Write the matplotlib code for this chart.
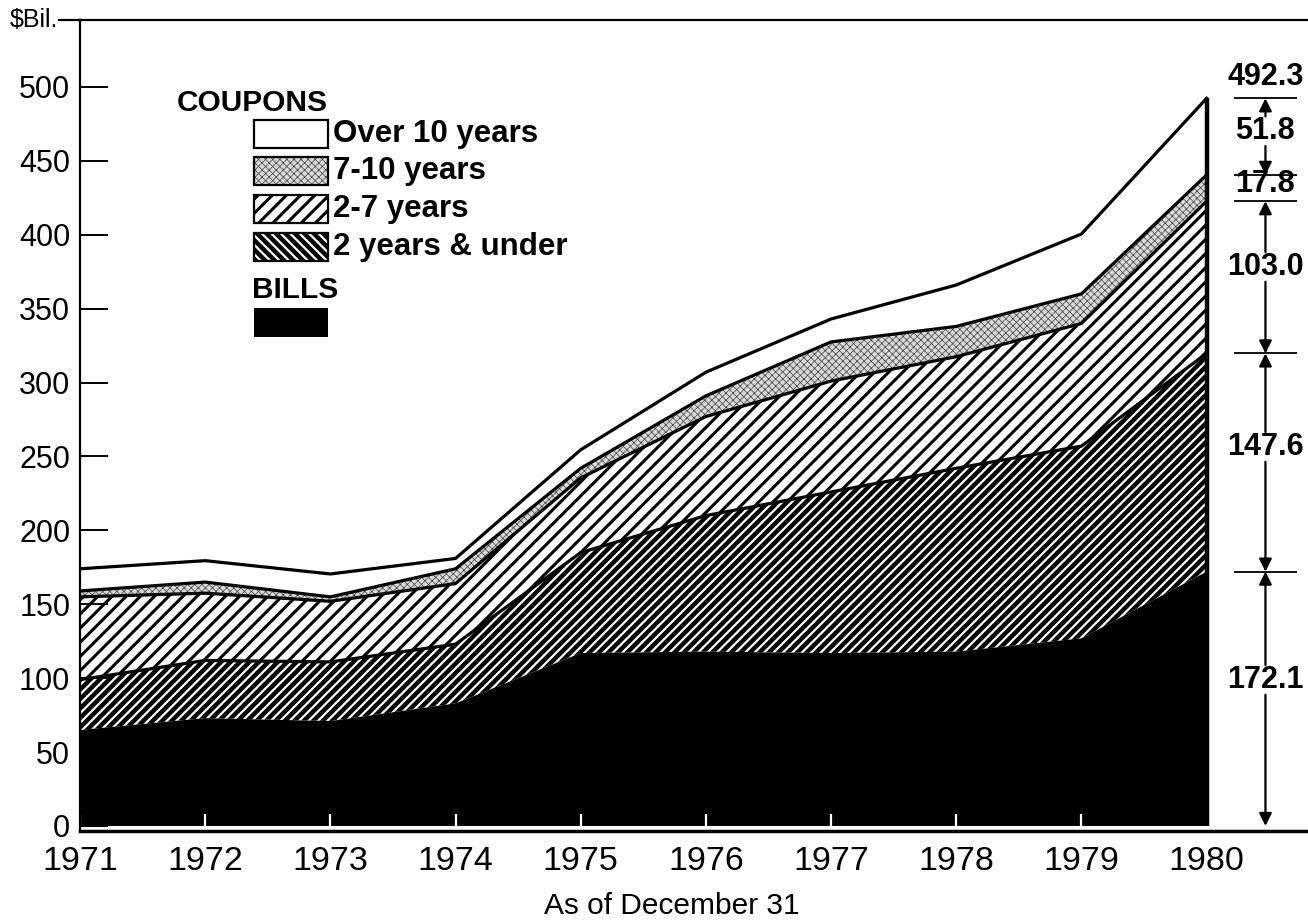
import matplotlib
matplotlib.use("Agg")
import matplotlib.pyplot as plt
from matplotlib.patches import Rectangle
import numpy as np

# marketable debt by maturity, $ billions, as of December 31
years = [1971, 1972, 1973, 1974, 1975, 1976, 1977, 1978, 1979, 1980]
bills = [65, 73, 71, 83, 117, 118, 117, 118, 127, 172.1]
under_2 = [34, 39, 40, 40, 68, 92, 109, 124, 130, 147.6]
yrs_2_7 = [56, 45.5, 41, 41, 50.5, 67, 75, 75.5, 83, 103.0]
yrs_7_10 = [4, 7.5, 3, 10, 6.5, 14, 26.5, 20.5, 20, 17.8]
over_10 = [15, 14.5, 15.5, 7, 12.5, 16, 15.5, 28, 40.5, 51.8]

coupon_labels = ["Over 10 years", "7-10 years", "2-7 years", "2 years & under"]
yticks = [0, 50, 100, 150, 200, 250, 300, 350, 400, 450, 500]

plt.rcParams['font.family'] = ['Liberation Sans', 'DejaVu Sans']

# dpi 85 makes the hatch spacing close to the printed one
W, H, DPI = 1308, 924, 85
S = 100 / DPI  # sizes below were worked out in points at 100 dpi
fig = plt.figure(figsize=((W + 0.01) / DPI, (H + 0.01) / DPI), dpi=DPI)
ax = fig.add_axes([80 / W, 1 - 831 / H, 1 - 80 / W, (831 - 20) / H])

stack = np.cumsum(np.array([bills, under_2, yrs_2_7, yrs_7_10, over_10]), axis=0)


def hatched(artist, lw):
    if hasattr(artist, "set_hatch_linewidth"):
        artist.set_hatch_linewidth(lw)


ax.fill_between(years, 0, stack[0], facecolor="black", lw=0)
with plt.rc_context({"hatch.linewidth": 1.6 * S}):
    p = ax.fill_between(years, stack[0], stack[1], facecolor="black",
                        edgecolor="white", hatch="///", lw=0)
    hatched(p, 1.6 * S)
with plt.rc_context({"hatch.linewidth": 2.2 * S}):
    p = ax.fill_between(years, stack[1], stack[2], facecolor="white",
                        edgecolor="black", hatch="//", lw=0)
    hatched(p, 2.2 * S)
with plt.rc_context({"hatch.linewidth": 0.5 * S}):
    p = ax.fill_between(years, stack[2], stack[3], facecolor="#d8d8d8",
                        edgecolor="#404040", hatch="xxxx", lw=0)
    hatched(p, 0.5 * S)
ax.fill_between(years, stack[3], stack[4], facecolor="white", lw=0)

for k in range(1, 5):
    ax.plot(years, stack[k], color="black", lw=2.3 * S, solid_joinstyle="miter")
ax.vlines(years[-1], 0, stack[4][-1], color="black", lw=3.2 * S)

ax.set_xlim(1971, 1980.81)
ax.set_ylim(-3.4, 545.3)
ax.set_xticks(years)
ax.set_yticks(yticks)
ax.tick_params(axis="x", direction="in", length=12 * S, width=1.6 * S,
               color="white", labelsize=24.5 * S, pad=11 * S)
ax.tick_params(axis="y", direction="in", length=20 * S, width=1.4 * S,
               color="black", labelsize=22 * S, pad=7 * S)
for t in ax.yaxis.get_major_ticks()[:2]:
    t.tick1line.set_color("white")
ax.spines["right"].set_visible(False)
ax.spines["top"].set_linewidth(1.6 * S)
ax.spines["left"].set_linewidth(1.6 * S)
ax.spines["bottom"].set_linewidth(2.5 * S)
ax.plot([-0.017, 0], [1, 1], transform=ax.transAxes, color="black",
        lw=1.6 * S, clip_on=False)

# bracket annotations for 1980 to the right of the chart
xa = 1980.47
edges = [0] + list(stack[:, -1])
ax.hlines(edges[1:], 1980.22, 1980.72, color="black", lw=1.3 * S, clip_on=False)
lbl_y = [98.8, 256.4, 378.2, 434.4, 470, 507]
parts = [bills[-1], under_2[-1], yrs_2_7[-1], yrs_7_10[-1], over_10[-1]]
for i, v in enumerate(parts):
    ax.text(xa, lbl_y[i], f"{v:.1f}", ha="center", va="center",
            fontsize=22 * S, fontweight="bold", clip_on=False)
    if i == 3:
        continue
    for start, end in [(lbl_y[i] + 10, edges[i + 1]), (lbl_y[i] - 10, edges[i])]:
        ax.annotate("", xy=(xa, end), xytext=(xa, start),
                    arrowprops=dict(arrowstyle="-|>", color="black", lw=1.6 * S,
                                    mutation_scale=19 * S, shrinkA=0, shrinkB=0),
                    annotation_clip=False)
ax.text(xa, lbl_y[5], f"{stack[4][-1]:.1f}", ha="center", va="center",
        fontsize=22 * S, fontweight="bold", clip_on=False)

# hand-made legend
def fx(x):
    return x / W


def fy(y):
    return 1 - y / H


fig.text(fx(177), fy(103), "COUPONS", fontsize=21.5 * S, fontweight="bold",
         va="center")
fig.text(fx(252), fy(290), "BILLS", fontsize=21.5 * S, fontweight="bold",
         va="center")
box_top = [120, 157, 195, 233]
styles = [dict(facecolor="white"),
          dict(facecolor="#d8d8d8", edgecolor="#404040", hatch="xxxx"),
          dict(facecolor="white", edgecolor="black", hatch="//"),
          dict(facecolor="black", edgecolor="white", hatch="\\\\\\")]
hlw = [1, 0.5, 2.2, 1.6]
for i, lab in enumerate(coupon_labels):
    with plt.rc_context({"hatch.linewidth": hlw[i] * S}):
        r = Rectangle((fx(254), fy(box_top[i] + 28)), 74 / W, 28 / H,
                      transform=fig.transFigure, lw=0, **styles[i])
        hatched(r, hlw[i] * S)
    fig.add_artist(r)
    fig.add_artist(Rectangle((fx(254), fy(box_top[i] + 28)), 74 / W, 28 / H,
                             transform=fig.transFigure, facecolor="none",
                             edgecolor="black", lw=1.6 * S))
    fig.text(fx(333), fy(box_top[i] + 14), lab, fontsize=22.5 * S,
             fontweight="bold", va="center")
fig.add_artist(Rectangle((fx(254), fy(337)), 74 / W, 29 / H,
                         transform=fig.transFigure, facecolor="black", lw=0))

fig.text(fx(10), fy(20), r"\$Bil.", fontsize=18 * S, va="center", ha="left")
fig.text(fx(672), fy(906), "As of December 31", fontsize=21.5 * S, ha="center",
         va="center")

fig.savefig("out.png", dpi=DPI)
